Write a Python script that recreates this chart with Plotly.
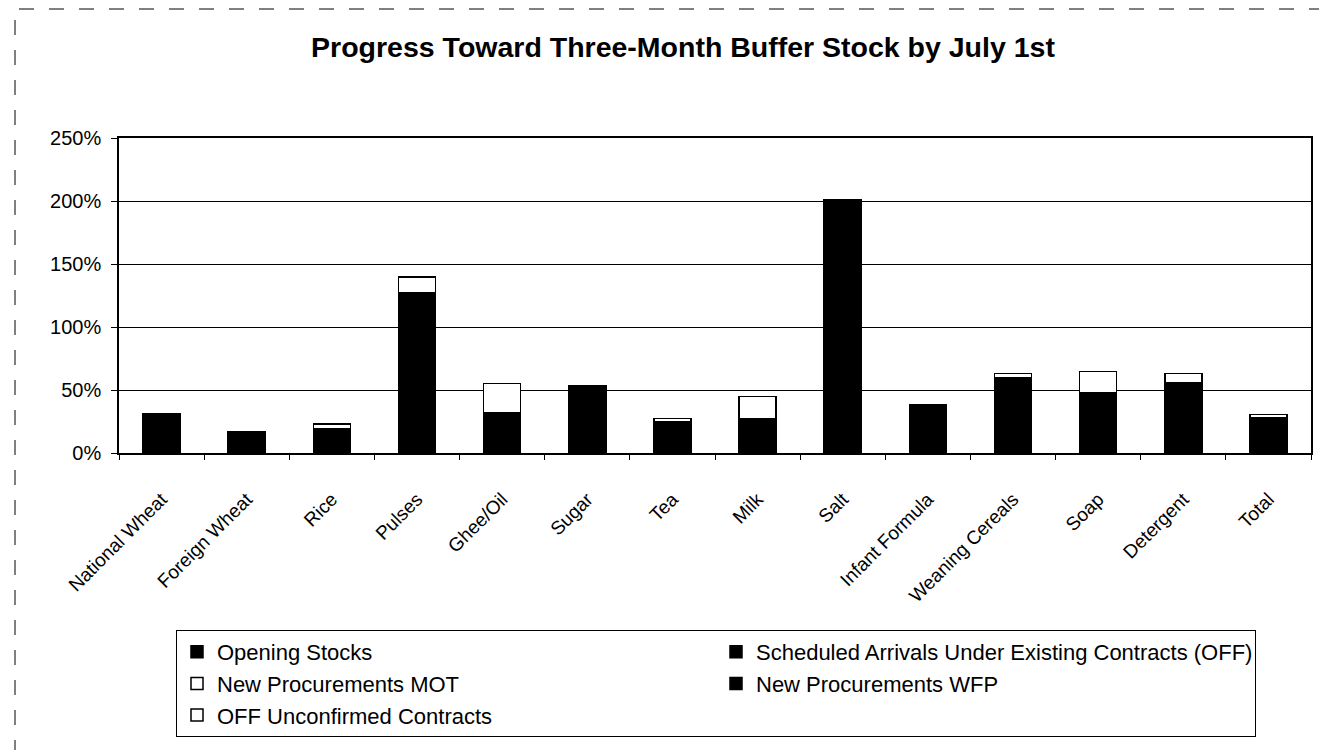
import plotly.graph_objects as go

categories = ["National Wheat", "Foreign Wheat", "Rice", "Pulses", "Ghee/Oil", "Sugar", "Tea",
              "Milk", "Salt", "Infant Formula", "Weaning Cereals", "Soap", "Detergent", "Total"]

opening_stocks = [31, 16.5, 19, 127, 32, 53, 25, 27.5, 201, 38, 59.5, 47.5, 56, 28]
scheduled_arrivals = [0] * 14
new_proc_mot = [0, 0, 4, 12.5, 23, 0, 2.5, 17.5, 0, 0, 3.5, 17, 7, 2.5]
new_proc_wfp = [0] * 14
off_unconfirmed = [0] * 14

series_names = ["Opening Stocks", "Scheduled Arrivals Under Existing Contracts (OFF)",
                "New Procurements MOT", "New Procurements WFP", "OFF Unconfirmed Contracts"]
series_values = [opening_stocks, scheduled_arrivals, new_proc_mot, new_proc_wfp, off_unconfirmed]
series_colors = ["black", "black", "white", "black", "white"]

y_ticks = [0, 50, 100, 150, 200, 250]
y_tick_labels = ["0%", "50%", "100%", "150%", "200%", "250%"]

# page body has an 8px margin; figure sized to fill the rest of the 1327x750 window
OFF = 8
W, H = 1327 - OFF, 750 - OFF
ML, MR, MT, MB = 111, 16, 130, 297
FONT = "Liberation Sans, Arial, sans-serif"

fig = go.Figure()
for name, vals, col in zip(series_names, series_values, series_colors):
    fig.add_trace(go.Bar(
        x=categories, y=[v if v else None for v in vals], name=name,
        marker=dict(color=col, line=dict(color="black", width=1.5)),
    ))

pw = W - ML - MR
ph = H - MT - MB
def px_x(x):
    return (x - ML) / pw
def px_y(y):
    return (H - MB - y) / ph

fig.update_layout(
    width=W, height=H,
    margin=dict(l=ML, r=MR, t=MT, b=MB),
    barmode="stack", bargap=0.565,
    paper_bgcolor="white", plot_bgcolor="white",
    font=dict(family=FONT, color="black", size=20),
    title=dict(text="<b>Progress Toward Three-Month Buffer Stock by July 1st</b>",
               x=(683 - OFF) / W, xanchor="center", xref="container",
               y=1 - (47 - OFF) / H, yanchor="middle", yref="container",
               font=dict(family=FONT, size=28.5, color="black")),
    showlegend=True,
    legend=dict(orientation="h", xref="container", yref="container",
                x=168 / W, xanchor="left", y=1 - 622 / H, yanchor="top",
                entrywidth=494, entrywidthmode="pixels",
                bordercolor="black", borderwidth=1, bgcolor="white",
                font=dict(family=FONT, size=22, color="black"),
                traceorder="normal"),
    xaxis=dict(type="category", showline=True, linecolor="black", linewidth=1.5, mirror=True,
               ticks="outside", tickson="boundaries", ticklen=5, tickcolor="black",
               tickangle=-45, ticklabelstandoff=26,
               tickfont=dict(family=FONT, size=19, color="black"),
               showgrid=False),
    yaxis=dict(range=[0, 250], tickvals=y_ticks, ticktext=y_tick_labels,
               showline=True, linecolor="black", linewidth=1.5, mirror=True,
               ticks="outside", ticklen=6, tickcolor="black", ticklabelstandoff=6,
               gridcolor="black", gridwidth=1.2, zeroline=False,
               tickfont=dict(family=FONT, size=20, color="black")),
    shapes=[dict(type="rect", xref="paper", yref="paper",
                 x0=px_x(7), x1=px_x(1317), y0=px_y(760), y1=px_y(1),
                 line=dict(color="black", width=1, dash="longdash"))],
)

fig.write_html("out.html")
